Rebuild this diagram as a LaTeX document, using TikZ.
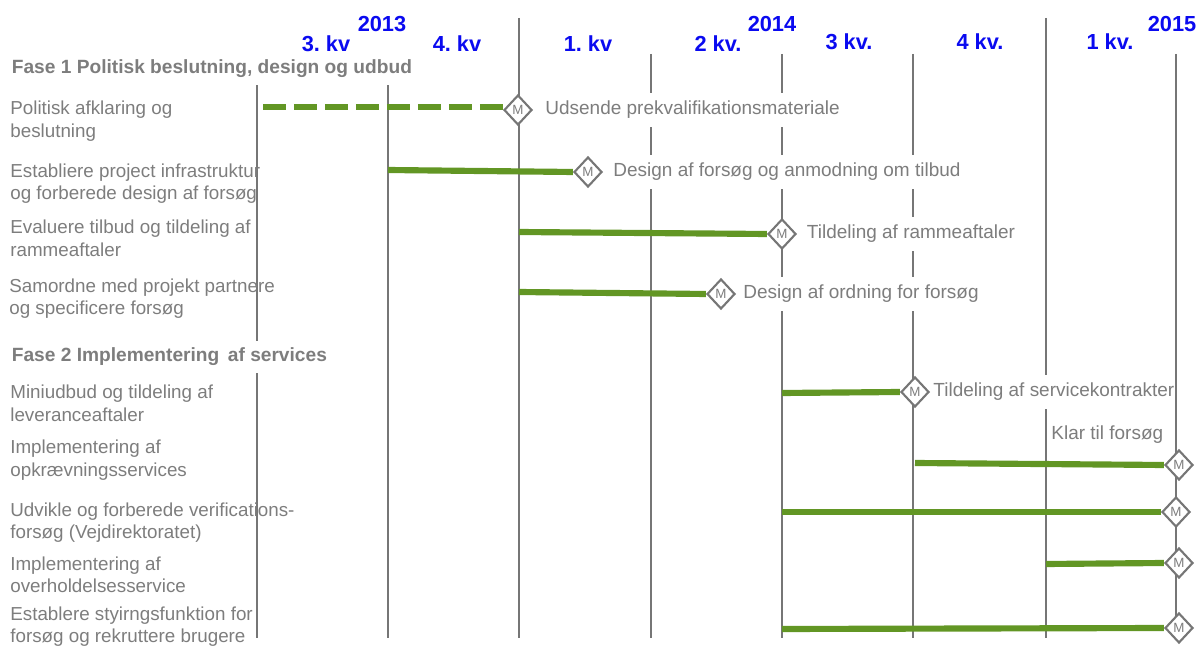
\documentclass[tikz,border=0pt]{standalone}
\usepackage{fontspec}
\setmainfont{Liberation Sans}
\usetikzlibrary{positioning,shapes.geometric}
\definecolor{barg}{RGB}{98,150,36}
\definecolor{gridg}{RGB}{118,118,118}
\definecolor{txtg}{RGB}{125,125,125}
\definecolor{hdrb}{RGB}{10,10,240}
\frenchspacing

\begin{document}
\begin{tikzpicture}[x=0.02cm,y=-0.02cm,
  gridline/.style={gridg,line width=1.1pt},
  bar/.style={barg,line width=3.5pt},
  dbar/.style={bar,dash pattern=on 0.46cm off 0.16cm},
  ms/.style={shape=diamond,draw=gridg,line width=1.2pt,fill=white,inner sep=0pt,
    minimum width=0.56cm,minimum height=0.6cm,text=txtg,font=\fontsize{7.6}{7.6}\selectfont},
  mlab/.style={fill=white,text=txtg,font=\fontsize{10.8}{12}\selectfont,inner xsep=0.6pt,inner ysep=4.5pt},
  rowlab/.style={text=txtg,font=\fontsize{10.7}{12.8}\selectfont,align=left,anchor=west,inner sep=0pt},
  phase/.style={fill=white,text=txtg,font=\fontsize{10.9}{11}\selectfont\bfseries,anchor=west,inner xsep=2pt,inner ysep=3.8pt},
  qtr/.style={text=hdrb,font=\fontsize{12.4}{12}\selectfont\bfseries}]
\useasboundingbox (0,0) rectangle (1198,648);
% ================= grid =================
\foreach \x/\t in {257/54,388/54,519/18,651/54,782/54,913/54,1046/18,1176/54}
  \draw[gridline] (\x,\t) -- (\x,638);
% ================= header =================
\node[qtr] (y13) at (382,24) {2013};
\node[qtr] (y14) at (772,24) {2014};
\node[qtr] (y15) at (1172,24) {2015};
\node[qtr] (q1) at (326,44) {3. kv};
\node[qtr] (q2) at (457,44) {4. kv};
\node[qtr] (q3) at (588,44) {1. kv};
\node[qtr] (q4) at (718,44) {2 kv.};
\node[qtr] (q5) at (849,42) {3 kv.};
\node[qtr] (q6) at (980,42) {4 kv.};
\node[qtr] (q7) at (1110,42) {1 kv.};
% ================= fase 1 =================
\node[phase] (f1) at (8,69) {Fase 1 Politisk beslutning, design og udbud};
\node[rowlab] (r1) at (10,121) {Politisk afklaring og\\beslutning};
\node[rowlab] (r2) at (10,183.5) {Establiere project infrastruktur\\og forberede design af forsøg};
\node[rowlab] (r3) at (10,238.5) {Evaluere tilbud og tildeling af\\rammeaftaler};
\node[rowlab] (r4) at (9,298.5) {Samordne med projekt partnere\\og specificere forsøg};
% bars and milestones
\coordinate (s1) at (263,107);
\node[ms] (m1) at (518,110) {M};
\draw[dbar] (s1) -- (s1 -| m1.west);
\node[mlab,right=0.22cm of m1] (l1) {Udsende prekvalifikationsmateriale};
\coordinate (s2) at (388,170);
\node[ms] (m2) at (588,172) {M};
\draw[bar] (s2) -- (m2.west);
\node[mlab,right=0.18cm of m2] (l2) {Design af forsøg og anmodning om tilbud};
\coordinate (s3) at (519,232);
\node[ms] (m3) at (782,234) {M};
\draw[bar] (s3) -- (m3.west);
\node[mlab,right=0.17cm of m3] (l3) {Tildeling af rammeaftaler};
\coordinate (s4) at (519,292);
\node[ms] (m4) at (721,294) {M};
\draw[bar] (s4) -- (m4.west);
\node[mlab,right=0.12cm of m4] (l4) {Design af ordning for forsøg};
% ================= fase 2 =================
\node[phase] (f2) at (8,357) {Fase 2 Implementering\,\ af services};
\node[rowlab] (r5) at (10,403.5) {Miniudbud og tildeling af\\leveranceaftaler};
\node[rowlab] (r6) at (10,460) {Implementering af\\opkrævningsservices};
\node[rowlab] (r7) at (10,522.5) {Udvikle og forberede verifications-\\forsøg (Vejdirektoratet)};
\node[rowlab] (r8) at (10,575) {Implementering af\\overholdelsesservice};
\node[rowlab] (r9) at (10,626.5) {Establere styirngsfunktion for\\forsøg og rekruttere brugere};
% bars and milestones
\coordinate (s5) at (782,393);
\node[ms] (m5) at (915,392) {M};
\draw[bar] (s5) -- (m5.west);
\node[mlab,right=0.04cm of m5] (l5) {Tildeling af servicekontrakter};
\node[mlab,anchor=west] (l6) at (1050,435) {Klar til forsøg};
\coordinate (s6) at (915,463);
\node[ms] (m6) at (1179,465) {M};
\draw[bar] (s6) -- (m6.west);
\coordinate (s7) at (782,512);
\node[ms] (m7) at (1176,512) {M};
\draw[bar] (s7) -- (m7.west);
\coordinate (s8) at (1046,564);
\node[ms] (m8) at (1179,563) {M};
\draw[bar] (s8) -- (m8.west);
\coordinate (s9) at (782,629);
\node[ms] (m9) at (1179,628) {M};
\draw[bar] (s9) -- (m9.west);
\end{tikzpicture}
\end{document}
